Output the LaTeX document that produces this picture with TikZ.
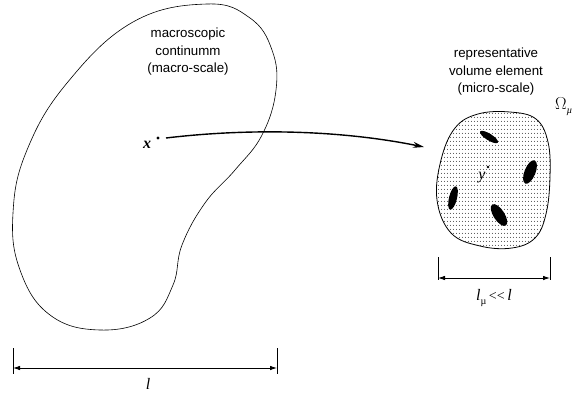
\documentclass[tikz,border=0pt]{standalone}
\usepackage{fontspec}
\setmainfont{Liberation Sans}
\newfontfamily\serifit{Liberation Serif}
\usetikzlibrary{arrows.meta,patterns,patterns.meta}
\tikzdeclarepattern{
  name=griddots,
  type=uncolored,
  bounding box={(0pt,0pt) and (3.4pt,4pt)},
  tile size={(3.4pt,4pt)},
  code={\fill (1.7pt,2pt) circle (0.55pt);}
}
\tikzset{
  blobline/.style={line width=0.6pt},
  dimline/.style={line width=0.8pt,{Latex[length=7pt,width=4.5pt]}-{Latex[length=7pt,width=4.5pt]}},
  ticklines/.style={line width=0.7pt},
  lbl/.style={font=\fontsize{13.3}{17.5}\selectfont,align=center,inner sep=0pt},
  mathlbl/.style={font=\serifit\fontsize{16}{16}\selectfont\itshape,inner sep=0pt},
  incl/.style={fill=black},
}
\begin{document}
\begin{tikzpicture}[x=1pt,y=-1pt]
\useasboundingbox (0,0) rectangle (573,394);
% macroscopic body
\draw[blobline] plot[smooth cycle,tension=0.7] coordinates{
 (207,4) (250,18) (272,50) (276,90) (262,135) (235,170) (205,203) (182,245)
 (173,285) (150,318) (100,330) (50,315) (20,270) (13,213) (27,150) (67,83) (133,22)};
\node[lbl] (macrotxt) at (188,52) {macroscopic\\continumm\\(macro-scale)};
% point x
\fill (158,138) circle (1.7pt);
\coordinate (xdot) at (166,138);
\node[mathlbl,font=\serifit\fontsize{16}{16}\selectfont\bfseries\itshape] (xlbl) at (147,145) {x};
% micro body
\draw[blobline,line width=0.8pt,pattern=griddots,pattern color=black!75] plot[smooth cycle,tension=0.65] coordinates{
 (455,128) (478,114) (510,112) (536,119) (548,142) (550,177) (546,214) (535,238)
 (512,248) (480,246) (451,233) (437,200) (441,160)};
\fill[incl,rotate around={-32:(489,137)}] (489,137) ellipse (10.5pt and 3.3pt);
\fill[incl,rotate around={68:(530,172)}] (530,172) ellipse (12.5pt and 5.5pt);
\fill[incl,rotate around={76:(453,198)}] (453,198) ellipse (12pt and 4pt);
\fill[incl,rotate around={-57:(499,215)}] (499,215) ellipse (12.5pt and 5.5pt);
\fill (488,167) circle (1.4pt);
\node[mathlbl] (ylbl) at (482,178) {y};
\node[lbl] (microtxt) at (496,72) {representative\\volume element\\(micro-scale)};
\node[inner sep=0pt,font=\serifit\fontsize{17}{17}\selectfont,anchor=west] (omega) at (555,107) {$\Omega$\raisebox{-4pt}{\fontsize{10}{10}\selectfont\itshape\textmu}};
% arrow
\coordinate (target) at (424,147);
\draw[line width=1.4pt,-{Stealth[length=11pt,width=6pt]}] (xdot) .. controls (250,128) and (340,130) .. (target);
% macro dimension
\coordinate (ml) at (13,348); \coordinate (mlb) at (13,374);
\coordinate (mr) at (277,348); \coordinate (mrb) at (277,374);
\draw[ticklines] (ml) -- (mlb) (mr) -- (mrb);
\coordinate (mla) at (13,368); \coordinate (mra) at (277,368);
\draw[dimline] (mla) -- (mra);
\node[mathlbl] (llbl) at (148,384) {l};
% micro dimension
\coordinate (sl) at (438,257); \coordinate (slb) at (438,280);
\coordinate (sr) at (550,257); \coordinate (srb) at (550,280);
\draw[ticklines] (sl) -- (slb) (sr) -- (srb);
\coordinate (sla) at (438,278); \coordinate (sra) at (550,278);
\draw[dimline] (sla) -- (sra);
\node[font=\serifit\fontsize{16}{16}\selectfont,inner sep=0pt] (lmu) at (494,298) {\textit{l}\raisebox{-4pt}{\fontsize{10}{10}\selectfont\textmu}\,{\fontsize{14}{14}\selectfont<<}\,\textit{l}};
\end{tikzpicture}
\end{document}
